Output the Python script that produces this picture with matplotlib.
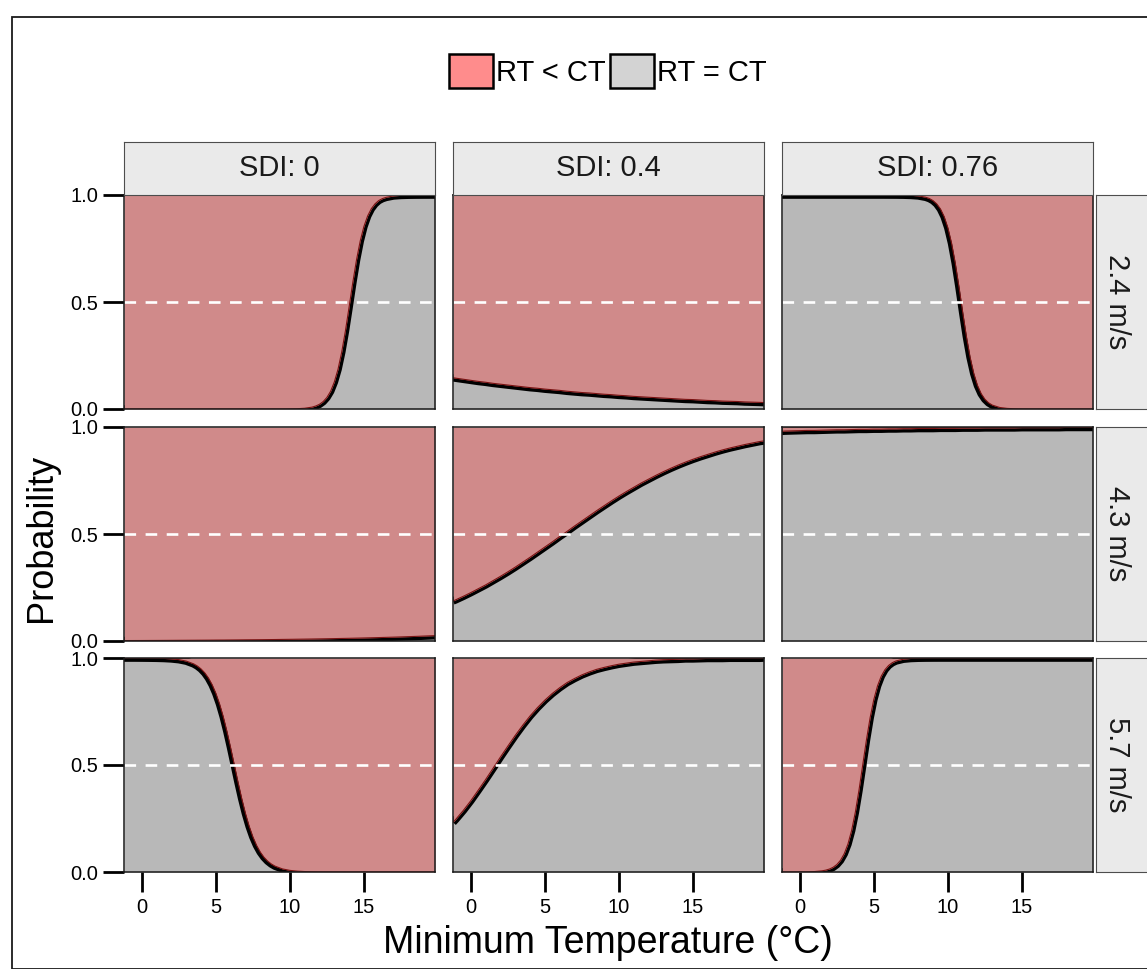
import matplotlib
matplotlib.use("Agg")
import matplotlib.pyplot as plt
from matplotlib.patches import Patch, Rectangle

plt.rcParams['font.family'] = ['Liberation Sans', 'DejaVu Sans']

# ---- data -------------------------------------------------------------
# common temperature grid (°C)
TEMP = [-1.2, -1.0, -0.5, 0.0, 0.5, 1.0, 1.5, 2.0, 2.5, 3.0, 3.5, 4.0, 4.5,
        5.0, 5.5, 6.0, 6.5, 7.0, 7.5, 8.0, 8.5, 9.0, 9.5, 10.0, 10.5, 11.0,
        11.5, 12.0, 12.5, 13.0, 13.5, 14.0, 14.5, 15.0, 15.5, 16.0, 16.5,
        17.0, 17.5, 18.0, 18.5, 19.0, 19.5, 19.8]

# denser grids for the steep transitions
TEMP_W24_SDI0 = [-1.2, -1.0, -0.5, 0.0, 0.5, 1.0, 1.5, 2.0, 2.5, 3.0, 3.5,
                 4.0, 4.5, 5.0, 5.5, 6.0, 6.5, 7.0, 7.5, 8.0, 8.5, 9.0, 9.5,
                 10.0, 10.5, 11.0, 11.5, 11.75, 12.0, 12.25, 12.5, 12.75,
                 13.0, 13.25, 13.5, 13.75, 14.0, 14.25, 14.5, 14.75, 15.0,
                 15.25, 15.5, 15.75, 16.0, 16.25, 16.5, 17.0, 17.5, 18.0,
                 18.5, 19.0, 19.5, 19.8]
TEMP_W24_SDI076 = [-1.2, -1.0, -0.5, 0.0, 0.5, 1.0, 1.5, 2.0, 2.5, 3.0, 3.5,
                   4.0, 4.5, 5.0, 5.5, 6.0, 6.5, 7.0, 7.5, 8.0, 8.5, 8.75,
                   9.0, 9.25, 9.5, 9.75, 10.0, 10.25, 10.5, 10.75, 11.0,
                   11.25, 11.5, 11.75, 12.0, 12.25, 12.5, 12.75, 13.0, 13.5,
                   14.0, 14.5, 15.0, 15.5, 16.0, 16.5, 17.0, 17.5, 18.0,
                   18.5, 19.0, 19.5, 19.8]
TEMP_W57_SDI0 = [-1.2, -1.0, -0.5, 0.0, 0.5, 1.0, 1.5, 2.0, 2.5, 3.0, 3.5,
                 3.75, 4.0, 4.25, 4.5, 4.75, 5.0, 5.25, 5.5, 5.75, 6.0, 6.25,
                 6.5, 6.75, 7.0, 7.25, 7.5, 7.75, 8.0, 8.25, 8.5, 8.75, 9.0,
                 9.5, 10.0, 10.5, 11.0, 11.5, 12.0, 12.5, 13.0, 13.5, 14.0,
                 14.5, 15.0, 15.5, 16.0, 16.5, 17.0, 17.5, 18.0, 18.5, 19.0,
                 19.5, 19.8]
TEMP_W57_SDI076 = [-1.2, -1.0, -0.5, 0.0, 0.5, 1.0, 1.5, 1.75, 2.0, 2.25,
                   2.5, 2.75, 3.0, 3.25, 3.5, 3.75, 4.0, 4.25, 4.5, 4.75,
                   5.0, 5.25, 5.5, 5.75, 6.0, 6.25, 6.5, 7.0, 7.5, 8.0, 8.5,
                   9.0, 9.5, 10.0, 10.5, 11.0, 11.5, 12.0, 12.5, 13.0, 13.5,
                   14.0, 14.5, 15.0, 15.5, 16.0, 16.5, 17.0, 17.5, 18.0,
                   18.5, 19.0, 19.5, 19.8]

WIND_LABELS = ["2.4 m/s", "4.3 m/s", "5.7 m/s"]
SDI_LABELS = ["SDI: 0", "SDI: 0.4", "SDI: 0.76"]
LEGEND_LABELS = ["RT < CT", "RT = CT"]

# probability that RT = CT, per wind speed (rows) and SDI (columns)
P_EQ_W24_SDI0 = [0.0, 0.0, 0.0, 0.0, 0.0, 0.0, 0.0, 0.0, 0.0, 0.0, 0.0, 0.0,
                 0.0, 0.0, 0.0, 0.0, 0.0, 0.0, 0.0, 0.0, 0.0, 0.0001, 0.0002,
                 0.0006, 0.0014, 0.0035, 0.0088, 0.0140, 0.022, 0.0346,
                 0.054, 0.0828, 0.126, 0.1854, 0.266, 0.3647, 0.477, 0.5915,
                 0.697, 0.785, 0.853, 0.902, 0.936, 0.9587, 0.974, 0.9832,
                 0.989, 0.9958, 0.9983, 0.9993, 0.9997, 0.9999, 1.0, 1.0]
P_EQ_W24_SDI04 = [0.146, 0.144, 0.139, 0.134, 0.129, 0.125, 0.120, 0.116,
                  0.112, 0.108, 0.104, 0.100, 0.097, 0.093, 0.090, 0.087,
                  0.083, 0.080, 0.077, 0.075, 0.072, 0.069, 0.067, 0.064,
                  0.062, 0.059, 0.057, 0.055, 0.053, 0.051, 0.049, 0.047,
                  0.045, 0.044, 0.042, 0.040, 0.039, 0.037, 0.036, 0.035,
                  0.033, 0.032, 0.031, 0.030]
P_EQ_W24_SDI076 = [1.0, 1.0, 1.0, 1.0, 1.0, 1.0, 1.0, 1.0, 1.0, 1.0, 1.0, 1.0,
                   1.0, 1.0, 1.0, 0.9999, 0.9998, 0.9994, 0.9984, 0.9960,
                   0.9896, 0.9835, 0.9737, 0.9583, 0.9346, 0.8989, 0.8468,
                   0.7747, 0.6814, 0.5708, 0.4526, 0.3396, 0.2423, 0.1659,
                   0.1100, 0.0714, 0.0457, 0.0289, 0.0182, 0.0071, 0.0028,
                   0.0011, 0.0004, 0.0002, 0.0001, 0.0, 0.0, 0.0, 0.0, 0.0,
                   0.0, 0.0, 0.0]
P_EQ_W43_SDI0 = [0.0020, 0.0021, 0.0022, 0.0023, 0.0025, 0.0026, 0.0028,
                 0.0030, 0.0032, 0.0034, 0.0036, 0.0038, 0.0040, 0.0043,
                 0.0045, 0.0048, 0.0051, 0.0055, 0.0058, 0.0061, 0.0065,
                 0.0069, 0.0074, 0.0078, 0.0083, 0.0088, 0.0093, 0.0099,
                 0.0105, 0.0112, 0.0119, 0.0126, 0.0134, 0.0142, 0.0151,
                 0.0160, 0.0170, 0.0180, 0.0191, 0.0203, 0.0215, 0.0229,
                 0.0242, 0.0251]
P_EQ_W43_SDI04 = [0.187, 0.193, 0.209, 0.226, 0.244, 0.262, 0.282, 0.302,
                  0.323, 0.345, 0.368, 0.391, 0.415, 0.439, 0.463, 0.488,
                  0.512, 0.537, 0.561, 0.585, 0.609, 0.632, 0.655, 0.677,
                  0.698, 0.718, 0.738, 0.756, 0.774, 0.791, 0.807, 0.822,
                  0.836, 0.849, 0.861, 0.872, 0.883, 0.893, 0.902, 0.910,
                  0.918, 0.925, 0.932, 0.935]
P_EQ_W43_SDI076 = [0.980, 0.981, 0.982, 0.983, 0.984, 0.984, 0.985, 0.986,
                   0.987, 0.987, 0.988, 0.989, 0.989, 0.990, 0.990, 0.991,
                   0.991, 0.992, 0.992, 0.993, 0.993, 0.993, 0.994, 0.994,
                   0.994, 0.995, 0.995, 0.995, 0.996, 0.996, 0.996, 0.996,
                   0.996, 0.997, 0.997, 0.997, 0.997, 0.997, 0.997, 0.998,
                   0.998, 0.998, 0.998, 0.998]
P_EQ_W57_SDI0 = [0.9999, 0.9999, 0.9999, 0.9997, 0.9994, 0.9989, 0.9979,
                 0.9960, 0.9924, 0.9856, 0.9727, 0.9627, 0.9491, 0.9309,
                 0.9068, 0.8754, 0.8355, 0.7858, 0.7261, 0.6570, 0.5805,
                 0.5000, 0.4195, 0.3430, 0.2739, 0.2142, 0.1645, 0.1246,
                 0.0932, 0.0691, 0.0509, 0.0373, 0.0273, 0.0144, 0.0076,
                 0.0040, 0.0021, 0.0011, 0.0006, 0.0003, 0.0002, 0.0001,
                 0.0, 0.0, 0.0, 0.0, 0.0, 0.0, 0.0, 0.0, 0.0, 0.0, 0.0, 0.0,
                 0.0]
P_EQ_W57_SDI04 = [0.232, 0.247, 0.288, 0.333, 0.382, 0.432, 0.484, 0.537,
                  0.588, 0.638, 0.685, 0.729, 0.768, 0.803, 0.834, 0.861,
                  0.885, 0.904, 0.921, 0.935, 0.947, 0.956, 0.964, 0.971,
                  0.976, 0.981, 0.984, 0.987, 0.990, 0.992, 0.993, 0.994,
                  0.996, 0.996, 0.997, 0.998, 0.998, 0.998, 0.999, 0.999,
                  0.999, 0.999, 0.999, 1.0]
P_EQ_W57_SDI076 = [0.0, 0.0, 0.0001, 0.0003, 0.0008, 0.0021, 0.0054, 0.0086,
                   0.0137, 0.0219, 0.0347, 0.0547, 0.0851, 0.1301, 0.1939,
                   0.2789, 0.3834, 0.5000, 0.6166, 0.7211, 0.8061, 0.8699,
                   0.9149, 0.9453, 0.9653, 0.9781, 0.9863, 0.9946, 0.9979,
                   0.9992, 0.9997, 0.9999, 1.0, 1.0, 1.0, 1.0, 1.0, 1.0, 1.0,
                   1.0, 1.0, 1.0, 1.0, 1.0, 1.0, 1.0, 1.0, 1.0, 1.0, 1.0,
                   1.0, 1.0, 1.0, 1.0]

X_TICKS = [0, 5, 10, 15]
Y_TICKS = [0.0, 0.5, 1.0]
Y_TICKLABELS = ["0.0", "0.5", "1.0"]
X_LIMITS = (-1.2, 19.8)

GRID = [
    [(TEMP_W24_SDI0, P_EQ_W24_SDI0), (TEMP, P_EQ_W24_SDI04),
     (TEMP_W24_SDI076, P_EQ_W24_SDI076)],
    [(TEMP, P_EQ_W43_SDI0), (TEMP, P_EQ_W43_SDI04),
     (TEMP, P_EQ_W43_SDI076)],
    [(TEMP_W57_SDI0, P_EQ_W57_SDI0), (TEMP, P_EQ_W57_SDI04),
     (TEMP_W57_SDI076, P_EQ_W57_SDI076)],
]

# ---- styling ------------------------------------------------------------
RED_FILL = "#D08A8A"
GRAY_FILL = "#B8B8B8"
RED_KEY = "#FF8C8C"
GRAY_KEY = "#D3D3D3"
STRIP_FILL = "#EAEAEA"

W, H = 1147, 969
fig = plt.figure(figsize=(W / 100, H / 100), dpi=100)


def px_axes(left, top, width, height):
    return fig.add_axes([left / W, 1 - (top + height) / H, width / W, height / H])


col_left = [124, 453, 782]
row_top = [195, 427, 658]
pw, ph = 311, 214

for r in range(3):
    for c in range(3):
        x, p = GRID[r][c]
        ax = px_axes(col_left[c], row_top[r], pw, ph)
        # RT = CT share below the curve, RT < CT share above it
        ax.fill_between(x, 0, p, color=GRAY_FILL, lw=0, zorder=1)
        ax.plot(x, p, color="black", lw=5.5, zorder=2,
                solid_capstyle="butt", solid_joinstyle="round")
        ax.fill_between(x, p, 1, color=RED_FILL, lw=0, zorder=3)
        ax.plot(x, p, color="#7a1212", lw=0.8, zorder=4,
                solid_joinstyle="round")
        ax.axhline(0.5, color="white", lw=1.9, dashes=(4.4, 3.6), zorder=5)
        ax.set_xlim(*X_LIMITS)
        ax.set_ylim(0, 1)
        for s in ax.spines.values():
            s.set_linewidth(1.1)
            s.set_color("#1a1a1a")
            s.set_zorder(6)
        if c == 0:
            ax.set_yticks(Y_TICKS)
            ax.set_yticklabels(Y_TICKLABELS)
            ax.tick_params(axis="y", length=15, width=2.0, pad=3.5,
                           labelsize=14.5, colors="black")
        else:
            ax.set_yticks([])
        if r == 2:
            ax.set_xticks(X_TICKS)
            ax.set_xticklabels([str(t) for t in X_TICKS])
            ax.tick_params(axis="x", length=14.4, width=2.0, pad=4.5,
                           labelsize=14.5, colors="black")
        else:
            ax.set_xticks([])

# column strips
for c in range(3):
    sa = px_axes(col_left[c], 142, pw, 53)
    sa.set_facecolor(STRIP_FILL)
    sa.set_xticks([])
    sa.set_yticks([])
    for s in sa.spines.values():
        s.set_linewidth(0.8)
        s.set_color("#4d4d4d")
    sa.text(0.5, 0.5, SDI_LABELS[c], ha="center", va="center",
            fontsize=21, color="#1a1a1a", transform=sa.transAxes)

# row strips
for r in range(3):
    sa = px_axes(1096, row_top[r], 53, ph)
    sa.set_facecolor(STRIP_FILL)
    sa.set_xticks([])
    sa.set_yticks([])
    for s in sa.spines.values():
        s.set_linewidth(0.8)
        s.set_color("#4d4d4d")
    fig.text(1117 / W, 1 - (row_top[r] + ph / 2) / H, WIND_LABELS[r],
             rotation=-90, ha="center", va="center", fontsize=21,
             color="#1a1a1a")

# axis titles
fig.text(42 / W, 1 - 538 / H, "Probability", rotation=90, ha="center",
         va="center", fontsize=26)
fig.text(608 / W, 1 - 943 / H, "Minimum Temperature (°C)", ha="center",
         va="center", fontsize=27)

# legend
handles = [Patch(facecolor=RED_KEY, edgecolor="black", linewidth=1.8),
           Patch(facecolor=GRAY_KEY, edgecolor="black", linewidth=1.8)]
fig.legend(handles, LEGEND_LABELS, loc="center", ncol=2,
           bbox_to_anchor=(608 / W, 1 - 71 / H), frameon=False,
           fontsize=21, handlelength=1.5, handleheight=1.38,
           handletextpad=0.12, columnspacing=0.15, borderpad=0)

# outer frame
fig.add_artist(Rectangle((11.5 / W, 0), (W + 20) / W, 1 - 16.5 / H,
                         transform=fig.transFigure, fill=False,
                         edgecolor="#1a1a1a", linewidth=1.3, clip_on=False))

fig.savefig("out.png", dpi=100)
